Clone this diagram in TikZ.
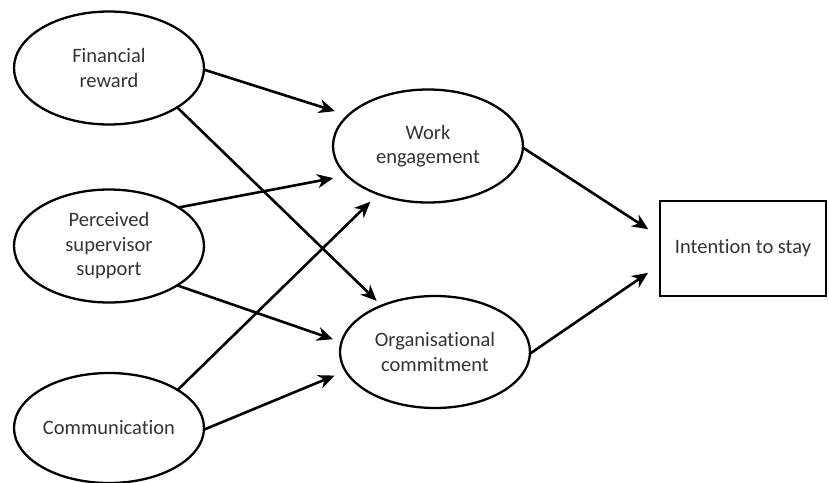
\documentclass[tikz,border=0pt]{standalone}
\usepackage{fontspec}
\setmainfont{Carlito}[Ligatures={NoCommon}]
\usetikzlibrary{shapes.geometric,arrows.meta}
\begin{document}
\begin{tikzpicture}[x=1pt,y=-1pt,
  every node/.style={font=\fontsize{20.5}{24.5}\selectfont, text=black!80, align=center, inner sep=0pt, outer sep=0pt},
  oval/.style={ellipse, draw=black, line width=2.3pt, minimum width=190pt, minimum height=113pt},
  outbox/.style={rectangle, draw=black, line width=1.8pt, minimum width=166pt, minimum height=95pt},
  arr/.style={draw=black, line width=2.6pt, -{Stealth[length=16pt,width=14pt,inset=5pt]}}]
\useasboundingbox (0,0) rectangle (829,482);
\node[oval] (fr) at (109,68) {Financial\\reward};
\node[oval] (pss) at (109,246) {Perceived\\supervisor\\support};
\node[oval, minimum height=110pt] (com) at (109,428) {Communication};
\node[oval] (we) at (428,146) {Work\\engagement};
\node[oval, minimum height=112pt] (oc) at (435,352) {Organisational\\commitment};
\node[outbox] (its) at (743,248.5) {Intention to stay};
\draw[arr, shorten >=14pt] (fr.-1) -- (we.159);
\draw[arr, shorten >=7pt] (fr.-30) -- (oc.139);
\draw[arr, shorten >=14pt] (pss.29.5) -- (we.-160);
\draw[arr, shorten >=9pt] (pss.-30) -- (oc.174);
\draw[arr, shorten >=11pt] (com.29) -- (we.-136.6);
\draw[arr, shorten >=12pt] (com.-1) -- (oc.192.3);
\draw[arr, shorten >=14pt] (we.-1) -- (its.172);
\draw[arr, shorten >=14.5pt] (oc.-1) -- (its.191.2);
\end{tikzpicture}
\end{document}
